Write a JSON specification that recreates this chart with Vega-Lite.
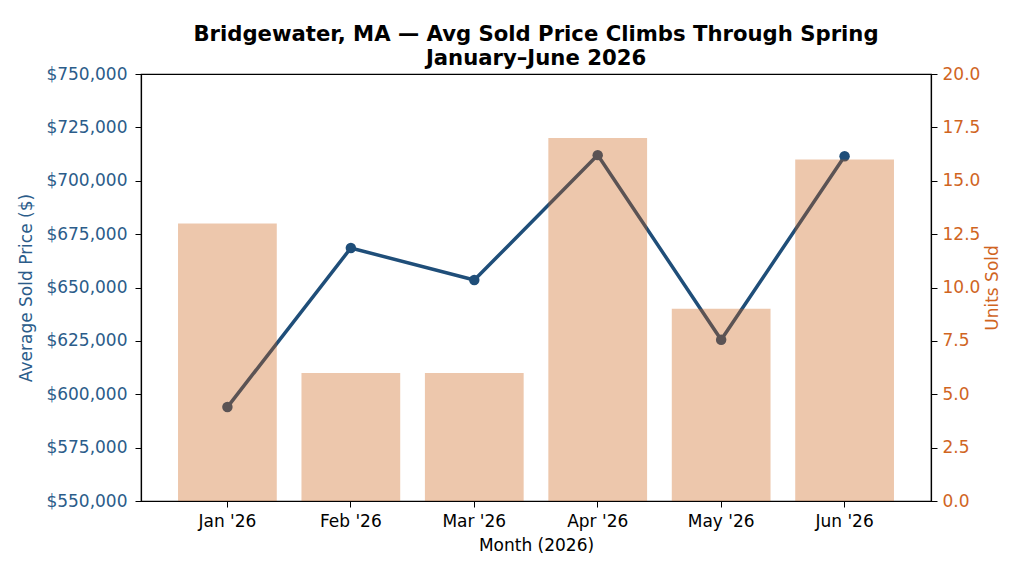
{
  "$schema": "https://vega.github.io/schema/vega-lite/v6.json",
  "autosize": "none",
  "width": 790,
  "height": 427,
  "padding": {"left": 141, "top": 74, "right": 93, "bottom": 75},
  "background": "white",
  "config": {
    "font": "DejaVu Sans",
    "view": {"stroke": "black", "strokeWidth": 1.2},
    "axis": {
      "grid": false,
      "domainColor": "black",
      "domainWidth": 1.2,
      "tickColor": "black",
      "tickSize": 6,
      "labelFont": "DejaVu Sans",
      "titleFont": "DejaVu Sans",
      "labelFontSize": 17,
      "titleFontSize": 17,
      "titleFontWeight": "normal",
      "labelPadding": 5
    }
  },
  "title": {
    "text": ["Bridgewater, MA — Avg Sold Price Climbs Through Spring", "January–June 2026"],
    "font": "DejaVu Sans",
    "fontSize": 21.2,
    "fontWeight": "bold",
    "color": "black",
    "anchor": "middle",
    "lineHeight": 24,
    "offset": -4
  },
  "data": {
    "values": [
      {"month": "Jan '26", "price": 594000, "units": 13},
      {"month": "Feb '26", "price": 668500, "units": 6},
      {"month": "Mar '26", "price": 653500, "units": 6},
      {"month": "Apr '26", "price": 712000, "units": 17},
      {"month": "May '26", "price": 625500, "units": 9},
      {"month": "Jun '26", "price": 711500, "units": 16}
    ]
  },
  "encoding": {
    "x": {
      "field": "month",
      "type": "ordinal",
      "sort": null,
      "scale": {"paddingInner": 0.2, "paddingOuter": 0.3},
      "axis": {"title": "Month (2026)", "labelAngle": 0, "labelColor": "black", "titleColor": "black", "labelPadding": 6, "titlePadding": 8}
    }
  },
  "layer": [
    {
      "mark": {"type": "line", "color": "#1f4e79", "strokeWidth": 3.5, "point": {"filled": true, "size": 110, "color": "#1f4e79", "opacity": 1}},
      "encoding": {
        "y": {
          "field": "price",
          "type": "quantitative",
          "scale": {"domain": [550000, 750000], "nice": false, "zero": false},
          "axis": {
            "orient": "left",
            "title": "Average Sold Price ($)",
            "values": [550000, 575000, 600000, 625000, 650000, 675000, 700000, 725000, 750000],
            "format": "$,.0f",
            "labelColor": "#2b5c8a",
            "titleColor": "#2b5c8a",
            "labelPadding": 8,
            "titlePadding": 10
          }
        }
      }
    },
    {
      "mark": {"type": "bar", "color": "#cc5f12", "opacity": 0.35},
      "encoding": {
        "y": {
          "field": "units",
          "type": "quantitative",
          "scale": {"domain": [0, 20], "nice": false},
          "axis": {
            "orient": "right",
            "title": "Units Sold",
            "values": [0, 2.5, 5, 7.5, 10, 12.5, 15, 17.5, 20],
            "format": ".1f",
            "labelColor": "#d0651f",
            "titleColor": "#d0651f",
            "titleAngle": 270,
            "titleBaseline": "top",
            "labelPadding": 5,
            "titlePadding": 5
          }
        }
      }
    }
  ],
  "resolve": {"scale": {"y": "independent"}}
}
